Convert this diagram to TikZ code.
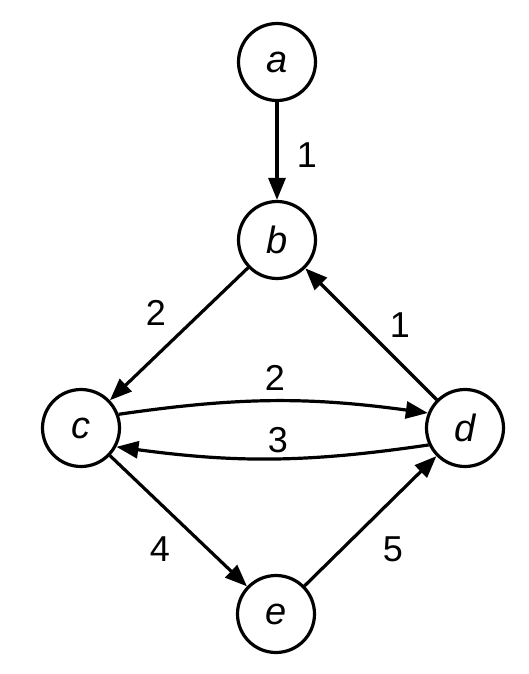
\documentclass[tikz,border=0pt]{standalone}
\usepackage{fontspec}
\setmainfont{Liberation Sans}
\usetikzlibrary{arrows.meta}
\begin{document}
\begin{tikzpicture}[x=1pt,y=-1pt,
  vtx/.style={circle,draw,line width=3.2pt,minimum size=77pt,inner sep=0pt,font=\fontsize{38}{44}\selectfont\itshape},
  edge/.style={line width=3.2pt,-{Triangle[length=22pt,width=17pt]}},
  lbl/.style={font=\fontsize{36}{42}\selectfont}]
\useasboundingbox (0,0) rectangle (529,674);
\node[vtx] (a) at (277,62) {a};
\node[vtx] (b) at (277,240) {b};
\node[vtx] (c) at (81,428) {c};
\node[vtx] (d) at (465,428) {d};
\node[vtx] (e) at (276,614) {e};
\draw[edge] (a) -- (b);
\draw[edge] (b) -- (c);
\draw[edge] (d) -- (b);
\draw[edge] (c.20) to[bend left=8] (d.158);
\draw[edge] (d.-155) to[bend left=8] (c.-28);
\draw[edge] (c) -- (e);
\draw[edge] (e) -- (d);
\node[lbl] (l1) at (307,155) {1};
\node[lbl] (l2) at (156,313) {2};
\node[lbl] (l3) at (400,325) {1};
\node[lbl] (l4) at (275,378) {2};
\node[lbl] (l5) at (278,440) {3};
\node[lbl] (l6) at (160,549) {4};
\node[lbl] (l7) at (393,549) {5};
\end{tikzpicture}
\end{document}
